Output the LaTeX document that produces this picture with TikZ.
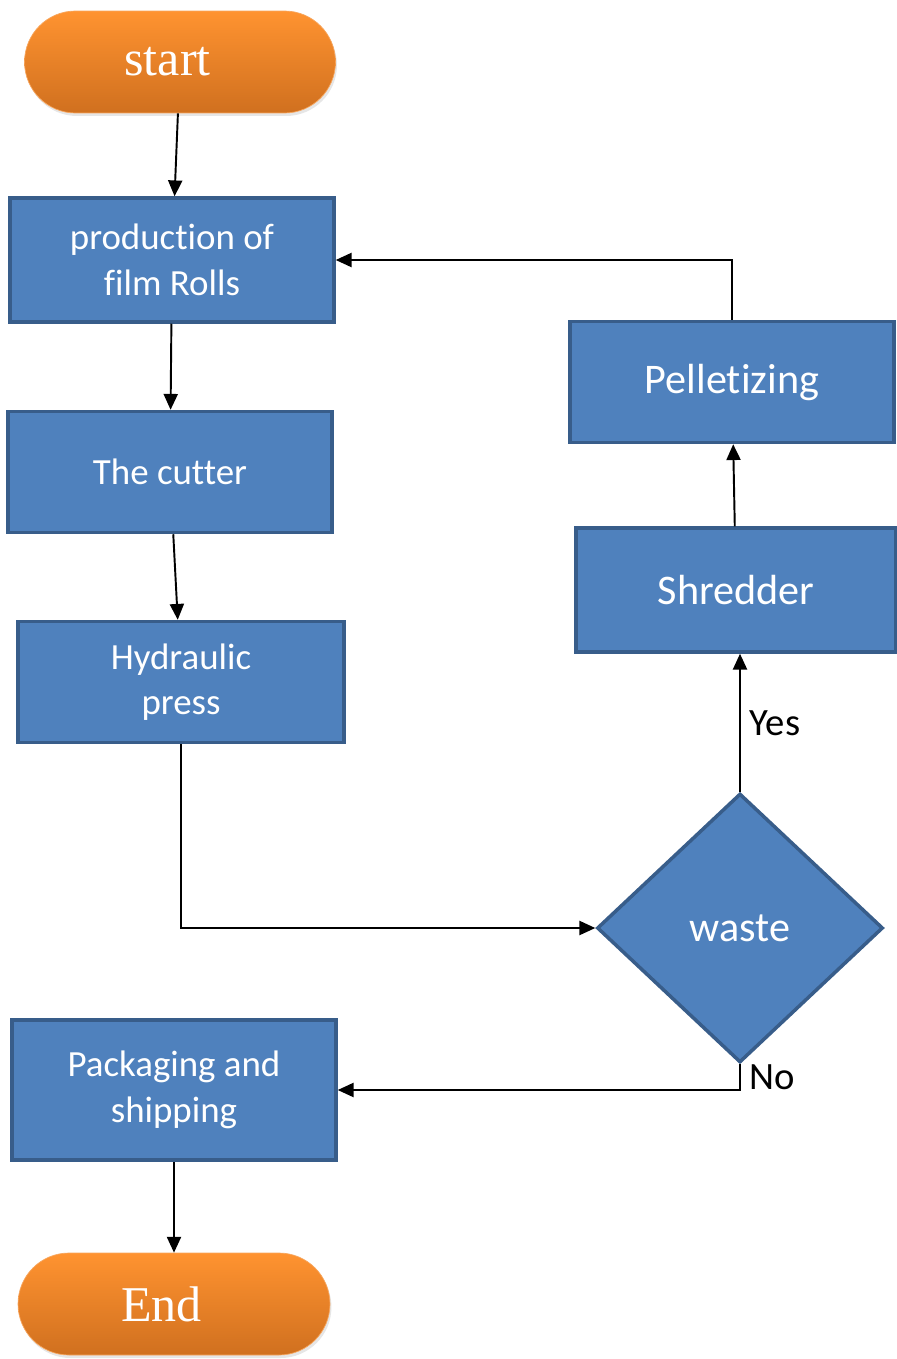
\documentclass[tikz,border=0pt]{standalone}
\usepackage{fontspec}
\setmainfont{Liberation Serif}
\setsansfont{Carlito}[Ligatures=NoCommon]
\usepackage{tikz}
\usetikzlibrary{shapes.geometric, arrows.meta, positioning, shadows}
\definecolor{boxblue}{HTML}{4F81BD}
\definecolor{boxedge}{HTML}{385D8A}
\definecolor{termtop}{HTML}{FF9330}
\definecolor{termbot}{HTML}{D0701F}
\definecolor{termedge}{HTML}{F7A65E}

\begin{document}
\begin{tikzpicture}[
    x=0.02cm, y=-0.02cm,
    box/.style={draw=boxedge, line width=2pt, fill=boxblue, text=white, align=center, font=\sffamily\fontsize{21}{26}\selectfont, minimum width=6.48cm, minimum height=2.42cm},
    bigbox/.style={box, font=\sffamily\fontsize{24}{28}\selectfont},
    term/.style={draw=termedge, thin, rounded corners=1.02cm, top color=termtop, bottom color=termbot, text=white, font=\fontsize{28.5}{32}\selectfont, minimum width=6.22cm, minimum height=2.04cm, execute at end node={\kern0.5cm}, drop shadow={opacity=0.2, shadow xshift=0.03cm, shadow yshift=-0.06cm}},
    decision/.style={diamond, draw=boxedge, line width=2pt, fill=boxblue, text=white, inner sep=0pt, font=\sffamily\fontsize{24}{28}\selectfont, minimum width=5.72cm, minimum height=5.38cm},
    lbl/.style={font=\sffamily\fontsize{22}{26}\selectfont, inner sep=5pt},
    arr/.style={-{Triangle[length=9pt,width=8pt]}, line width=1.1pt}
]
\useasboundingbox (0,0) rectangle (896,1359);

% main line
\node[term] (start) at (180,62) {start};
\node[box, minimum height=2.48cm] (prod) at (172,260) {production of\\film Rolls};
\node[box] (cutter) at (170,472) {The cutter};
\node[box, minimum width=6.52cm] (hyd) at (181,682) {Hydraulic\\press};
\node[box, minimum height=2.80cm] (pack) at (174,1090) {Packaging and\\shipping};
\node[term, minimum width=6.24cm] (end) at (174,1304) {End};

% recycling loop
\node[decision] (waste) at (740,928) {waste};
\node[bigbox, minimum width=6.40cm, minimum height=2.48cm] (shred) at (736,590) {Shredder};
\node[bigbox] (pell) at (732,382) {Pelletizing};

\draw[arr] (start) -- (prod);
\draw[arr] (prod) -- (cutter);
\draw[arr] (cutter) -- (hyd);
\draw[arr] (hyd.south) |- (waste.west);
\draw[arr] (waste.north) -- node[lbl, right]{Yes} (waste.north |- shred.south);
\draw[arr] (shred) -- (pell);
\draw[arr] (pell.north) |- (prod.east);
\draw[arr] (waste.south) |- node[lbl, right, pos=0.25]{No} (pack.east);
\draw[arr] (pack) -- (end);
\end{tikzpicture}
\end{document}
